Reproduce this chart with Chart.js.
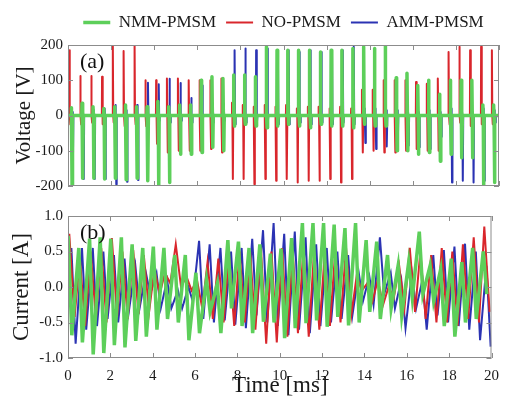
<!DOCTYPE html>
<html>
<head>
<meta charset="utf-8">
<script src="https://cdn.jsdelivr.net/npm/chart.js"></script>
<style>
  body { margin: 0; background: #fff; width: 508px; height: 400px; overflow: hidden; position: relative; }
  .panel { position: absolute; left: 0; width: 508px; height: 200px; }
</style>
</head>
<body>
<div class="panel" style="top:0"><canvas id="voltageChart"></canvas></div>
<div class="panel" style="top:200px"><canvas id="currentChart"></canvas></div>
<script>
// switching instants (ms), one per PWM period
const pulseTimes = [0.06, 0.56, 1.07, 1.57, 2.07, 2.57, 3.08, 3.58, 4.08, 4.58,
  5.09, 5.59, 6.09, 6.59, 7.10, 7.60, 8.10, 8.60, 9.11, 9.61,
  10.11, 10.61, 11.12, 11.62, 12.12, 12.62, 13.13, 13.63, 14.13, 14.63,
  15.14, 15.64, 16.14, 16.64, 17.15, 17.65, 18.15, 18.65, 19.16, 19.66];

const seriesNames = ["NMM-PMSM", "NO-PMSM", "AMM-PMSM"];

// voltage pulse peaks [V]
const vUpNMM = [22, 35, 25, 20, 25, 30, 25, 25, 40, 25, 30, 30, 100, 110, 105, 115, 115, 110, 195, 185,
  185, 185, 185, 180, 185, 185, 190, 195, 190, 200, 107, 120, 85, 100, 60, 100, 100, 100, 30, 30];
const vDownNMM = [-200, -178, -178, -180, -178, -182, -178, -185, -200, -190, -110, -110, -105, -90, -100, -30, -25, -30, -35, -30,
  -25, -30, -35, -25, -30, -30, -35, -25, -30, -30, -100, -100, -110, -105, -130, -110, -120, -120, -200, -190];
const vUpNO = [185, 112, 112, 110, 197, 183, 200, 100, 100, 105, 105, 100, 100, 100, 105, 36, 30, 25, 30, 25,
  30, 20, 25, 25, 20, 25, 20, 73, 73, 100, 100, 100, 95, 90, 105, 180, 195, 185, 195, 185];
const vDownNO = [-25, -25, -20, -25, -20, -30, -25, -30, -80, -105, -100, -100, -100, -95, -105, -180, -180, -195, -180, -185,
  -180, -190, -185, -185, -180, -190, -180, -105, -100, -105, -105, -100, -95, -100, -100, -25, -20, -30, -25, -25];
const vUpAMM = [10, 15, 15, 20, 30, 15, 30, 93, 89, 104, 92, 50, 85, 20, 20, 185, 190, 185, 190, 185,
  185, 180, 185, 180, 185, 185, 195, 20, 20, 15, 15, 20, 10, 15, 10, 20, 15, 10, 20, 15];
const vDownAMM = [-185, -180, -180, -180, -195, -188, -183, -15, -15, -20, -15, -20, -15, -20, -15, -25, -20, -25, -20, -25,
  -25, -20, -25, -20, -25, -20, -25, -78, -95, -88, -88, -85, -90, -95, -60, -190, -185, -190, -185, -20];

// current peaks / troughs [A]
const iHiNMM = [0.72, 0.55, 0.68, 0.70, 0.68, 0.70, 0.60, 0.55, 0.57, 0.55, 0.45, 0.45, 0.20, 0.10, 0.05, 0.66, 0.64, 0.55, 0.60, 0.47,
  0.54, 0.69, 0.90, 0.90, 0.90, 0.88, 0.83, 0.90, 0.66, 0.64, 0.45, 0.30, 0.35, 0.78, 0.30, 0.25, 0.40, 0.35, 0.55, 0.50];
const iLoNMM = [-0.68, -0.78, -0.95, -0.93, -0.82, -0.85, -0.76, -0.70, -0.60, -0.45, -0.50, -0.75, -0.65, -0.35, -0.65, -0.30, -0.55, -0.65, -0.49, -0.50,
  -0.72, -0.58, -0.51, -0.47, -0.56, -0.42, -0.54, -0.50, -0.35, -0.45, -0.30, -0.40, -0.15, -0.10, -0.20, -0.55, -0.70, -0.50, -0.45, -0.10];
const iHiNO = [0.75, 0.40, 0.50, 0.55, 0.69, 0.50, 0.52, 0.45, 0.25, 0.20, 0.60, 0.15, 0.10, 0.35, 0.40, 0.45, 0.50, 0.50, 0.55, 0.50,
  0.55, 0.50, 0.55, 0.50, 0.45, 0.50, 0.55, 0.15, 0.05, 0.10, 0.00, 0.30, 0.55, 0.50, 0.45, 0.55, 0.50, 0.60, 0.70, 0.85];
const iLoNO = [-0.42, -0.55, -0.45, -0.50, -0.42, -0.45, -0.38, -0.35, -0.10, 0.05, 0.00, -0.05, -0.30, -0.45, -0.50, -0.55, -0.50, -0.60, -0.80, -0.78,
  -0.70, -0.65, -0.70, -0.60, -0.55, -0.50, -0.40, -0.05, -0.20, -0.25, -0.15, -0.30, -0.35, -0.45, -0.50, -0.50, -0.55, -0.45, -0.50, -0.35];
const iHiAMM = [0.55, 0.55, 0.55, 0.50, 0.45, 0.40, 0.30, 0.20, 0.20, 0.10, -0.05, 0.00, 0.65, 0.60, 0.55, 0.50, 0.55, 0.68, 0.80, 0.90,
  0.75, 0.78, 0.70, 0.60, 0.55, 0.50, 0.45, 0.20, 0.15, 0.70, 0.20, 0.10, 0.20, 0.10, 0.45, 0.52, 0.57, 0.61, 0.50, 0.30];
const iLoAMM = [-0.80, -0.60, -0.55, -0.45, -0.50, -0.35, -0.30, -0.10, -0.30, -0.30, -0.30, -0.20, -0.45, -0.50, -0.47, -0.53, -0.58, -0.40, -0.50, -0.55,
  -0.68, -0.60, -0.65, -0.55, -0.50, -0.45, -0.40, -0.20, -0.25, -0.10, -0.30, -0.58, -0.30, -0.60, -0.40, -0.50, -0.55, -0.60, -0.75, -0.84];

const colors = ["#5dcf5a", "#d9262c", "#2b33b3"];

Chart.defaults.font.family = "'Liberation Serif', 'Times New Roman', serif";
Chart.defaults.color = "#1a1a1a";

// each switching event: short positive and negative excursion from 0
function voltagePoints(lag, up, down) {
  const pts = [{ x: 0, y: 0 }];
  pulseTimes.forEach((t, k) => {
    const t0 = t + lag;
    pts.push({ x: t0, y: 0 }, { x: t0 + 0.01, y: up[k] }, { x: t0 + 0.03, y: 0 },
      { x: t0 + 0.05, y: down[k] }, { x: t0 + 0.07, y: 0 });
  });
  pts.push({ x: 20, y: 0 });
  return pts;
}

function currentPoints(hiLag, loLag, hi, lo) {
  const pts = [];
  pulseTimes.forEach((t, k) => {
    pts.push({ x: t + hiLag, y: hi[k] }, { x: t + loLag, y: lo[k] });
  });
  return pts;
}

// MATLAB style box with inward ticks + panel tag
const frame = {
  id: "frame",
  afterDatasetsDraw(chart, args, opts) {
    const { ctx, chartArea: a, scales: { x, y } } = chart;
    ctx.save();
    ctx.strokeStyle = "#8c8c8c";
    ctx.lineWidth = 1;
    ctx.strokeRect(a.left + 0.5, a.top + 0.5, a.right - a.left - 1, a.bottom - a.top - 1);
    ctx.beginPath();
    x.ticks.forEach((t) => {
      const px = Math.round(x.getPixelForValue(t.value)) + 0.5;
      ctx.moveTo(px, a.bottom); ctx.lineTo(px, a.bottom - 5);
      ctx.moveTo(px, a.top); ctx.lineTo(px, a.top + 5);
    });
    y.ticks.forEach((t) => {
      const py = Math.round(y.getPixelForValue(t.value)) + 0.5;
      ctx.moveTo(a.left, py); ctx.lineTo(a.left + 5, py);
      ctx.moveTo(a.right, py); ctx.lineTo(a.right - 5, py);
    });
    ctx.stroke();
    ctx.fillStyle = "#111";
    ctx.font = "22px 'Liberation Serif'";
    ctx.textBaseline = "middle";
    ctx.fillText(opts.label, a.left + 12, a.top + 17);
    ctx.restore();
  }
};

const widths = [3.5, 2, 2];

new Chart(document.getElementById("voltageChart"), {
  type: "line",
  data: {
    datasets: [
      { label: seriesNames[0], data: voltagePoints(0.08, vUpNMM, vDownNMM) },
      { label: seriesNames[1], data: voltagePoints(0.0, vUpNO, vDownNO) },
      { label: seriesNames[2], data: voltagePoints(0.12, vUpAMM, vDownAMM) },
    ].map((d, i) => ({ ...d, borderColor: colors[i], backgroundColor: colors[i], borderWidth: widths[i],
      pointRadius: 0, tension: 0, borderJoinStyle: "round" })),
  },
  options: {
    responsive: true,
    maintainAspectRatio: false,
    animation: false,
    layout: { padding: { top: 4, right: 9, left: 0, bottom: 0 } },
    scales: {
      x: {
        type: "linear", min: 0, max: 20,
        ticks: { display: false, stepSize: 2 },
        grid: { display: false }, border: { display: false },
        afterFit: (s) => { s.height = 13; },
      },
      xGap: {
        type: "linear", position: "top", min: 0, max: 20,
        ticks: { display: false }, grid: { display: false }, border: { display: false },
        afterFit: (s) => { s.height = 4; },
      },
      y: {
        min: -200, max: 200,
        ticks: { stepSize: 100, font: { size: 15 }, padding: 5 },
        grid: { display: false, drawTicks: false }, border: { display: false },
        title: { display: true, text: "Voltage [V]", font: { size: 21 }, padding: { top: 12, bottom: 0 } },
        afterFit: (s) => { s.width = 68; },
      },
    },
    plugins: {
      legend: {
        position: "top", fullSize: false,
        labels: { usePointStyle: true, pointStyle: "line", pointStyleWidth: 27, padding: 10, font: { size: 17 } },
      },
      tooltip: { enabled: false },
      frame: { label: "(a)" },
    },
  },
  plugins: [frame],
});

new Chart(document.getElementById("currentChart"), {
  type: "line",
  data: {
    datasets: [
      { label: seriesNames[0], data: currentPoints(-0.05, 0.12, iHiNMM, iLoNMM) },
      { label: seriesNames[1], data: currentPoints(0.0, 0.25, iHiNO, iLoNO) },
      { label: seriesNames[2], data: currentPoints(0.1, 0.3, iHiAMM, iLoAMM) },
    ].map((d, i) => ({ ...d, borderColor: colors[i], backgroundColor: colors[i], borderWidth: widths[i],
      pointRadius: 0, tension: 0 })),
  },
  options: {
    responsive: true,
    maintainAspectRatio: false,
    animation: false,
    layout: { padding: { top: 16, right: 9, left: 0, bottom: 0 } },
    scales: {
      x: {
        type: "linear", min: 0, max: 20,
        ticks: { stepSize: 2, font: { size: 15 }, padding: 9, maxRotation: 0 },
        grid: { display: false, drawTicks: false }, border: { display: false },
        title: { display: true, text: "Time [ms]", font: { size: 23 }, padding: { top: 0, bottom: 0 } },
        afterFit: (s) => { s.height = 42; },
      },
      y: {
        min: -1, max: 1,
        ticks: { stepSize: 0.5, font: { size: 15 }, padding: 5, callback: (v) => v.toFixed(1) },
        grid: { display: false, drawTicks: false }, border: { display: false },
        title: { display: true, text: "Current [A]", font: { size: 23 }, padding: { top: 8, bottom: 0 } },
        afterFit: (s) => { s.width = 68; },
      },
    },
    plugins: {
      legend: { display: false },
      tooltip: { enabled: false },
      frame: { label: "(b)" },
    },
  },
  plugins: [frame],
});
</script>
</body>
</html>
